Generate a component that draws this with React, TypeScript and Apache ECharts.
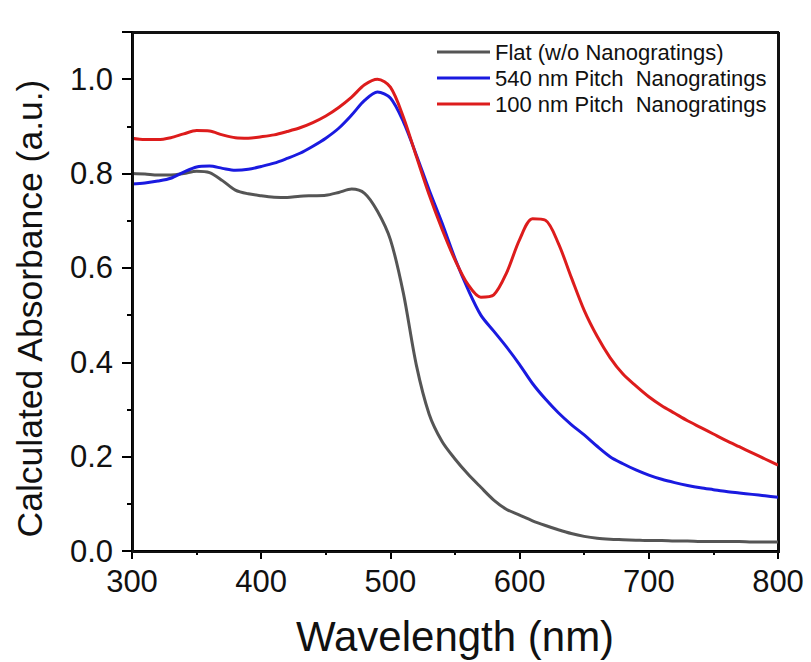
import React, { useEffect, useRef } from "react";
import * as echarts from "echarts";

const wavelengths = [300,310,320,330,340,350,360,370,380,390,400,410,420,430,440,450,460,470,480,490,500,510,520,530,540,550,560,570,580,590,600,610,620,630,640,650,660,670,680,690,700,710,720,730,740,750,760,770,780,790,800];

const flat = [0.800,0.799,0.797,0.797,0.800,0.805,0.802,0.785,0.765,0.757,0.753,0.750,0.749,0.752,0.753,0.754,0.760,0.767,0.758,0.720,0.660,0.547,0.395,0.290,0.232,0.195,0.163,0.135,0.108,0.088,0.076,0.064,0.054,0.045,0.037,0.031,0.027,0.025,0.024,0.023,0.022,0.022,0.021,0.021,0.020,0.020,0.020,0.020,0.019,0.019,0.019];

const pitch540 = [0.778,0.780,0.784,0.790,0.803,0.814,0.816,0.811,0.807,0.809,0.815,0.822,0.832,0.843,0.858,0.875,0.896,0.924,0.955,0.973,0.960,0.910,0.840,0.765,0.695,0.620,0.555,0.500,0.466,0.432,0.395,0.355,0.322,0.293,0.268,0.246,0.222,0.200,0.185,0.172,0.161,0.152,0.145,0.139,0.134,0.130,0.126,0.123,0.120,0.117,0.114];

const pitch100 = [0.875,0.872,0.872,0.876,0.884,0.891,0.890,0.882,0.876,0.875,0.878,0.882,0.889,0.897,0.908,0.922,0.940,0.962,0.988,1.000,0.983,0.920,0.837,0.755,0.682,0.617,0.565,0.538,0.543,0.590,0.660,0.704,0.701,0.652,0.580,0.510,0.455,0.410,0.375,0.350,0.327,0.308,0.292,0.276,0.262,0.248,0.234,0.221,0.208,0.195,0.182];

const seriesNames = ["Flat (w/o Nanogratings)", "540 nm Pitch  Nanogratings", "100 nm Pitch  Nanogratings"];
const seriesColors = ["#555555", "#1a1ae0", "#dd1c1c"];
const seriesValues = [flat, pitch540, pitch100];

const FONT = "Arial, 'Liberation Sans', sans-serif";
const GRID = { left: 132, right: 33, top: 32, bottom: 111 };
const W = 811;
const H = 662;

export default function App() {
  const ref = useRef<HTMLDivElement>(null);
  useEffect(() => {
    const chart = echarts.init(ref.current!, null, { renderer: "svg" });
    chart.setOption({
      animation: false,
      backgroundColor: "#ffffff",
      grid: { ...GRID, show: true, borderColor: "#111111", borderWidth: 2 },
      graphic: [
        {
          type: "rect",
          left: GRID.left,
          top: GRID.top,
          z: 100,
          silent: true,
          shape: { width: W - GRID.left - GRID.right, height: H - GRID.top - GRID.bottom },
          style: { fill: "transparent", stroke: "#111111", lineWidth: 2 },
        },
      ],
      legend: {
        orient: "vertical",
        left: 432, top: 36,
        itemWidth: 53, itemHeight: 3, itemGap: 4,
        icon: "rect",
        textStyle: { fontFamily: FONT, fontSize: 22, color: "#111" },
        data: seriesNames.map((n, i) => ({ name: n, itemStyle: { color: seriesColors[i] } })),
      },
      xAxis: {
        type: "value", min: 300, max: 800, interval: 100,
        name: "Wavelength (nm)", nameLocation: "middle", nameGap: 64,
        nameTextStyle: { fontFamily: FONT, fontSize: 42, color: "#111" },
        axisLine: { onZero: false, lineStyle: { color: "#000", width: 2 } },
        axisTick: { inside: false, length: 8, lineStyle: { color: "#000", width: 2 } },
        minorTick: { show: true, splitNumber: 2, length: 4, lineStyle: { color: "#000", width: 2 } },
        axisLabel: { fontFamily: FONT, fontSize: 31, color: "#111", margin: 15 },
        splitLine: { show: false },
      },
      yAxis: {
        type: "value", min: 0, max: 1.1, interval: 0.2,
        name: "Calculated Absorbance (a.u.)", nameLocation: "middle", nameGap: 84,
        nameTextStyle: { fontFamily: FONT, fontSize: 35.5, color: "#111", padding: [0, 34, 0, 0] },
        axisLine: { onZero: false, lineStyle: { color: "#000", width: 2 } },
        axisTick: { inside: false, length: 10, lineStyle: { color: "#000", width: 2 } },
        minorTick: { show: true, splitNumber: 2, length: 5, lineStyle: { color: "#000", width: 2 } },
        axisLabel: {
          fontFamily: FONT, fontSize: 31, color: "#111", margin: 19,
          formatter: (v: number) => (v > 1.05 ? "" : v.toFixed(1)),
        },
        splitLine: { show: false },
      },
      series: seriesNames.map((n, i) => ({
        name: n,
        type: "line",
        smooth: 0.3,
        symbol: "none",
        data: wavelengths.map((w, j) => [w, seriesValues[i][j]]),
        lineStyle: { color: seriesColors[i], width: 3 },
        itemStyle: { color: seriesColors[i] },
        z: i === 1 ? 2 : i === 2 ? 3 : 1,
      })),
    });
    return () => chart.dispose();
  }, []);
  return <div ref={ref} style={{ position: "fixed", left: 0, top: 0, width: W, height: H }} />;
}
